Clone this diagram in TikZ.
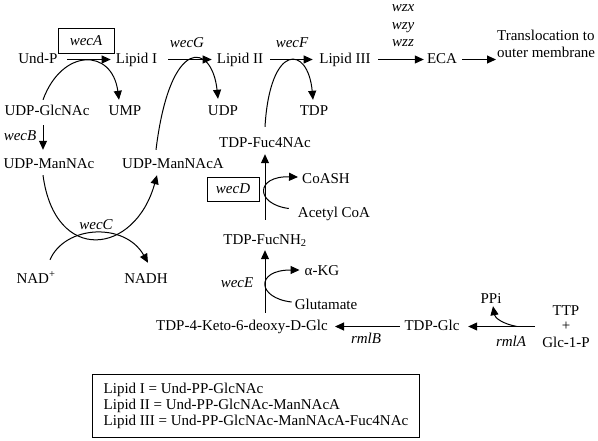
\documentclass[tikz,border=0pt]{standalone}
\usepackage{fontspec}
\setmainfont{Liberation Serif}
\usetikzlibrary{arrows.meta}
\begin{document}
\begin{tikzpicture}[x=1pt,y=-1pt,
  every node/.style={inner sep=0pt, font=\fontsize{15}{17}\selectfont},
  lbl/.style={anchor=base, text height=10pt, text depth=3pt},
  gene/.style={anchor=base, font=\fontsize{15}{17}\selectfont\itshape},
  genebox/.style={draw, line width=1pt, font=\fontsize{15}{17}\selectfont\itshape},
  arr/.style={line width=1pt, -{Triangle[length=9pt,width=8pt]}},
  ln/.style={line width=1pt}
]
\useasboundingbox (0,0) rectangle (598,440);

% top row
\node[lbl] (UndP) at (38,63) {Und-P};
\node[lbl] (LipidI) at (136.5,63) {Lipid I};
\node[lbl] (LipidII) at (240,63) {Lipid II};
\node[lbl] (LipidIII) at (345,63) {Lipid III};
\node[lbl] (ECA) at (442,63) {ECA};
\node[anchor=north west, align=left, text height=10pt] (Transloc) at (497,47) {Translocation to\\outer membrane};
\node[gene] (wzx) at (403,11.5) {wzx};
\node[gene] (wzy) at (403,29) {wzy};
\node[gene] (wzz) at (403,46.5) {wzz};

\node[genebox, minimum width=56pt, minimum height=25pt] (wecA) at (86,40.5) {wecA};
\node[gene] (wecG) at (187,47) {wecG};
\node[gene] (wecF) at (292,47) {wecF};

% second row
\node[lbl] (UDPGlcNAc) at (47,115) {UDP-GlcNAc};
\node[lbl] (UMP) at (125,115) {UMP};
\node[lbl] (UDP) at (223,115) {UDP};
\node[lbl] (TDP) at (314,115) {TDP};
\node[gene] (wecB) at (20,140) {wecB};

\node[lbl] (ManNAc) at (49,168) {UDP-ManNAc};
\node[lbl] (ManNAcA) at (173,168) {UDP-ManNAcA};
\node[lbl] (Fuc4NAc) at (265,147) {TDP-Fuc4NAc};

\node[gene] (wecC) at (96,229) {wecC};
\node[lbl] (NAD) at (36,283) {NAD\textsuperscript{+}};
\node[lbl] (NADH) at (146,283) {NADH};

\node[genebox, minimum width=52pt, minimum height=24pt] (wecD) at (233,189) {wecD};
\node[lbl] (CoASH) at (326,183) {CoASH};
\node[lbl] (AcetylCoA) at (334,217) {Acetyl CoA};
\node[lbl] (FucNH2) at (265,244) {TDP-FucNH\textsubscript{2}};
\node[lbl] (aKG) at (322,275) {α-KG};
\node[lbl] (Glutamate) at (326,309) {Glutamate};
\node[gene] (wecE) at (237,287) {wecE};

% bottom row
\node[lbl] (Keto) at (242,330) {TDP-4-Keto-6-deoxy-D-Glc};
\node[lbl] (TDPGlc) at (432,330) {TDP-Glc};
\node[gene] (rmlB) at (366,343) {rmlB};
\node[gene] (rmlA) at (511,346) {rmlA};
\node[lbl] (PPi) at (491,303) {PPi};
\node[lbl] (TTP) at (566,315) {TTP};
\node[lbl] (plus) at (566,330) {+};
\node[lbl] (GlcP) at (566,347) {Glc-1-P};

% legend
\node[draw, line width=1pt, anchor=north west, align=left, inner xsep=10pt, inner ysep=8.7pt,
      minimum width=327pt, minimum height=63pt, font=\fontsize{15}{16}\selectfont] (legend) at (92,374)
  {Lipid I = Und-PP-GlcNAc\\Lipid II = Und-PP-GlcNAc-ManNAcA\\Lipid III = Und-PP-GlcNAc-ManNAcA-Fuc4NAc};

% top row arrows
\draw[arr] ([xshift=9.5pt]UndP.east) -- ([xshift=-5pt]LipidI.west);
\draw[arr] ([xshift=11pt]LipidI.east) -- ([xshift=-5pt]LipidII.west);
\draw[arr] ([xshift=7pt]LipidII.east) -- ([xshift=-6.5pt]LipidIII.west);
\draw[arr] ([xshift=7.5pt]LipidIII.east) -- ([xshift=-3pt]ECA.west);
\draw[arr] ([xshift=5pt]ECA.east) -- ([xshift=-1pt]ECA.east -| Transloc.west);

% side reactions on top row
\draw[arr] ([xshift=-4pt,yshift=5pt]UDPGlcNAc.north) .. controls (62,48) and (112,48) .. ([xshift=-6pt,yshift=5pt]UMP.north);
\draw[arr] ([xshift=-17pt,yshift=8pt]ManNAcA.north) .. controls (170,35) and (212,42) .. ([xshift=-5pt,yshift=6pt]UDP.north);
\draw[arr] ([yshift=10pt]Fuc4NAc.north) .. controls (270,42) and (308,45) .. ([xshift=-1pt,yshift=5pt]TDP.north);

% wecB
\draw[arr] ([xshift=-4pt,yshift=-7pt]UDPGlcNAc.south) -- ([xshift=-6pt,yshift=8pt]ManNAc.north);

% wecC
\draw[arr] ([xshift=-6pt,yshift=-4pt]ManNAc.south) .. controls (55,265) and (135,255) .. ([xshift=-16pt,yshift=-4pt]ManNAcA.south);
\draw[arr] ([xshift=14pt,yshift=13pt]NAD.north) .. controls (65,225) and (125,222) .. ([xshift=2pt,yshift=10pt]NADH.north);

% vertical chain
\draw[arr] ([yshift=7pt]FucNH2.south |- Keto.north) -- ([yshift=-3pt]FucNH2.south);
\draw[arr] ([yshift=14pt]FucNH2.north) -- ([yshift=-4pt]FucNH2.north |- Fuc4NAc.south);

% wecD and wecE side reactions
\draw[arr] ([xshift=-9pt,yshift=5pt]AcetylCoA.west) .. controls (255,204) and (255,176) .. ([xshift=-4pt,yshift=2.5pt]CoASH.west);
\draw[arr] ([xshift=-3pt,yshift=3.5pt]Glutamate.west) .. controls (257,298) and (255,270) .. ([xshift=-5pt,yshift=1.5pt]aKG.west);

% bottom row arrows
\draw[arr] ([xshift=-4.5pt]TDPGlc.west) -- ([xshift=7pt]Keto.east);
\draw[arr] ([xshift=-7pt]GlcP.west |- TDPGlc.east) -- ([xshift=8.5pt]TDPGlc.east);
\draw[arr] ([xshift=-25pt]GlcP.west |- TDPGlc.east) .. controls (503,324) and (495,318) .. ([xshift=2pt]PPi.south);
\end{tikzpicture}
\end{document}
